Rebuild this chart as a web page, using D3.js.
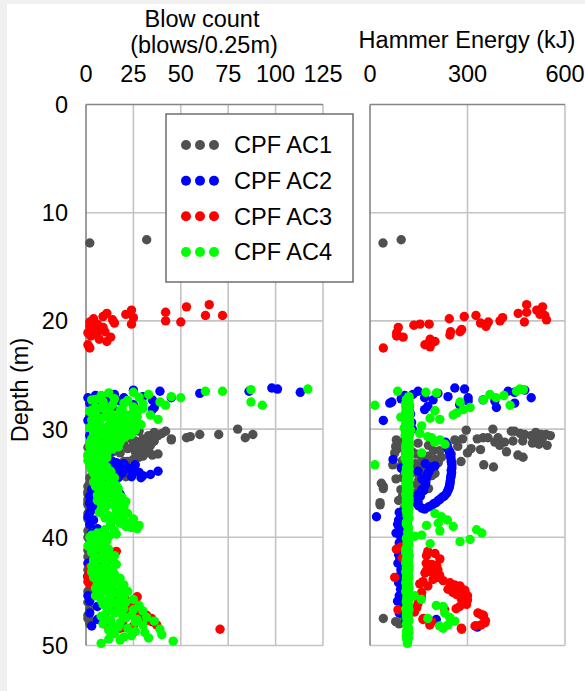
<!DOCTYPE html>
<html>
<head>
<meta charset="utf-8">
<script src="https://cdn.jsdelivr.net/npm/d3@7"></script>
<style>
  html, body { margin: 0; padding: 0; background: #f0f0f0; }
  svg { display: block; }
  text { font-family: "Liberation Sans", Arial, sans-serif; fill: #000; }
</style>
</head>
<body>
<svg id="chart" width="585" height="691"></svg>
<script>
// Axis ticks
const depthTicks = [0, 10, 20, 30, 40, 50];
const blowTicks = [0, 25, 50, 75, 100, 125];
const energyTicks = [0, 300, 600];

// Series names and colours
const seriesNames = ["CPF AC1", "CPF AC2", "CPF AC3", "CPF AC4"];
const seriesColors = ["#505050", "#0000ff", "#ff0000", "#00ff00"];

// Driving records: [depth (m), blow count (blows/0.25m), hammer energy (kJ)]
const ac1 = [
  [12.5,32,96],[12.8,2,40],
  [30.0,80,378],[30.1,27,296],[30.2,42,435],[30.2,28,445],[30.3,36,510],[30.4,40,462],[30.5,88,476],
  [30.5,70,527],[30.5,60,542],[30.6,38,496],[30.6,33,555],[30.7,55,507],[30.8,84,348],[30.8,53,363],
  [30.8,20,394],[30.9,45,530],[30.9,30,330],[30.9,24,285],[31.0,45,261],[31.0,15,81],[31.1,26,470],
  [31.1,36,440],[31.2,35,414],[31.2,31,384],[31.2,5,92],[31.3,12,148],[31.3,29,500],[31.4,20,520],
  [31.4,8,100],[31.5,10,180],[31.5,25,399],[31.5,34,545],[31.6,3,79],[31.6,30,270],[31.7,1,96],
  [31.8,22,311],[31.8,6,85],[31.9,9,118],[31.9,28,340],[32.0,8,195],[32.0,33,214],[32.1,14,130],
  [32.1,26,420],[32.2,18,76],[32.2,32,300],[32.3,38,250],[32.3,9,140],[32.4,35,455],[32.5,30,178],
  [32.6,11,220],[32.6,28,471],[32.7,12,160],[32.8,25,199],[32.9,6,100],[32.9,13,175],[33.0,20,117],
  [33.0,22,280],[33.1,10,210],[33.2,7,140],[33.3,16,160],[33.3,19,350],[33.3,3,70],[33.4,8,96],
  [33.5,18,380],[33.5,10,130],[33.6,22,148],[33.7,4,190],[33.8,5,163],[33.9,9,117],[33.9,7,105],
  [34.0,6,130],[34.1,5,200],[34.2,14,150],[34.3,4,120],[34.3,12,190],[34.4,21,175],[34.5,2,100],
  [34.6,3,80],[34.7,4,150],[34.8,7,163],[35.0,2,35],[35.1,6,125],[35.2,5,148],[35.3,1,41],
  [35.5,3,41],[35.5,3,180],[35.6,2,95],[35.8,1,120],[35.9,2,140],[36.0,1,110],[36.2,4,100],
  [36.3,2,130],[36.5,1,115],[36.6,2,88],[36.8,1,31],[37.0,1,31],[37.3,2,105],[37.8,1,112],
  [38.3,1,110],[38.8,2,115],[39.4,1,108],[40.0,1,112],[40.6,2,110],[41.2,1,115],[41.8,1,112],
  [42.4,2,110],[43.0,1,114],[43.6,1,110],[44.2,2,112],[45.0,1,115],[45.4,2,110],[46.0,1,112],
  [46.6,2,108],[47.2,1,100],[47.5,1,41],[47.8,3,79],[48.0,2,90]
];

const ac2 = [
  [26.2,98,261],[26.3,101,291],[26.4,25,476],[26.5,86,425],[26.5,39,148],[26.6,113,445],[26.7,60,209],
  [26.8,15,132],[26.9,5,107],[27.0,30,240],[27.1,45,302],[27.1,20,496],[27.1,1,168],[27.2,10,96],
  [27.3,35,348],[27.3,6,194],[27.4,8,384],[27.4,18,302],[27.5,3,67],[27.6,12,445],[27.6,2,61],
  [27.75,25,276],[27.9,6,178],[28.0,14,389],[28.0,36,120],[28.2,35,168],[28.3,4,120],[28.6,9,125],
  [28.9,2,117],[29.2,1,41],[29.4,6,128],[29.7,3,122],[30.0,10,130],[30.3,5,120],[30.6,2,118],
  [30.9,8,110],[31.2,4,232],[31.4,5,236],[31.5,6,120],[31.6,7,238],[31.8,3,240],[32.0,9,243],
  [32.1,7,245],[32.2,12,110],[32.3,6,246],[32.5,10,248],[32.7,11,249],[32.8,8,71],[33.0,14,250],
  [33.1,16,251],[33.2,20,170],[33.3,26,252],[33.4,15,200],[33.5,12,190],[33.6,22,96],[33.6,20,252],
  [33.7,21,185],[33.8,18,250],[33.9,38,148],[34.0,25,180],[34.0,28,251],[34.1,19,178],[34.2,34,250],
  [34.3,30,175],[34.4,24,249],[34.5,29,248],[34.5,17,174],[34.6,15,160],[34.8,10,172],[34.8,12,247],
  [35.0,8,246],[35.0,14,171],[35.2,5,170],[35.2,9,245],[35.4,12,244],[35.6,3,160],[35.6,7,241],
  [35.7,12,165],[35.8,6,238],[36.0,18,150],[36.0,5,234],[36.2,2,228],[36.2,10,155],[36.3,4,222],
  [36.4,9,145],[36.5,4,215],[36.6,3,210],[36.7,8,148],[36.8,2,203],[36.9,7,145],[36.9,2,196],
  [37.1,3,188],[37.1,6,150],[37.2,4,180],[37.3,3,160],[37.4,5,168],[37.7,2,90],[38.1,1,20],
  [38.4,4,88],[38.8,2,85],[39.2,6,92],[39.6,3,80],[40.0,5,95],[40.5,6,90],[41.0,4,96],[41.6,7,88],
  [42.0,5,92],[42.4,1,86],[43.0,6,95],[43.6,1,90],[44.2,5,88],[44.8,7,94],[45.4,1,90],[45.9,2,85],
  [46.4,6,96],[47.0,2,90],[47.6,6,204],[47.8,35,110],[48.2,3,327],[48.3,20,330]
];

const ac3 = [
  [18.5,65,482],[18.7,53,531],[19.0,24,513],[19.2,42,482],[19.3,11,456],[19.4,21,523],[19.5,63,326],
  [19.5,72,538],[19.6,9,290],[19.7,25,408],[19.8,4,244],[19.9,14,543],[20.0,42,400],[20.1,50,475],
  [20.1,2,364],[20.2,15,340],[20.3,24,182],[20.3,6,154],[20.4,3,135],[20.5,2,357],[20.6,9,87],
  [20.8,5,282],[21.0,10,248],[21.0,6,277],[21.1,1,82],[21.3,3,246],[21.4,2.5,82],[21.5,13,102],
  [21.7,7,185],[21.9,11,200],[22.2,1,169],[22.4,1.6,185],[22.5,2,41],
  [40.9,3,95],[41.1,5,81],[41.3,16,178],[41.5,10,200],[41.7,12,174],[41.9,14,100],[42.0,8,215],
  [42.2,4,110],[42.4,11,173],[42.5,9,190],[42.6,6,205],[42.8,2,199],[43.0,7,209],[43.1,3,173],
  [43.2,6,188],[43.3,5,169],[43.5,2,214],[43.7,1,76],[43.7,4,210],[43.9,3,194],[44.0,7,225],
  [44.1,1,163],[44.2,6,246],[44.3,2,153],[44.4,9,260],[44.5,8,277],[44.5,4,178],[44.7,10,271],
  [44.8,5,240],[44.9,13,292],[45.0,12,286],[45.1,15,255],[45.1,8,159],[45.3,20,267],[45.4,16,300],
  [45.5,27,158],[45.7,18,281],[45.8,21,300],[46.0,23,291],[46.1,14,148],[46.2,20,297],[46.4,25,276],
  [46.5,16,144],[46.6,22,265],[46.7,28.5,230],[46.7,12,86],[46.9,22,137],[47.0,30,332],[47.1,29,340],
  [47.2,32,349],[47.3,26,348],[47.5,34.6,164],[47.6,20,163],[47.7,33,355],[47.8,36,190],[47.9,30,354],
  [48.1,37.3,342],[48.1,11,184],[48.2,25,323],[48.4,18,281],[48.5,70.7,282]
];

const ac4 = [
  [26.3,117,461],[26.35,87,472],[26.5,72,451],[26.5,63,85],[26.6,25,172],[26.65,12,205],[26.8,33,369],
  [26.9,8,412],[27.0,45,120],[27.05,28,118],[27.1,50,388],[27.2,15,120],[27.25,5,112],[27.3,3,349],
  [27.35,22,120],[27.45,9,116],[27.5,87,277],[27.5,39,115],[27.6,20,110],[27.65,30,114],[27.75,14,122],
  [27.8,93,431],[27.8,42,15],[27.9,10,118],[27.95,25,110],[28.0,5,308],[28.05,8,118],[28.1,30,112],
  [28.15,19,120],[28.2,28,287],[28.25,3,114],[28.3,18,200],[28.35,26,116],[28.4,2,110],[28.45,11,112],
  [28.5,13,267],[28.55,20,122],[28.6,24,120],[28.65,5,118],[28.7,34,256],[28.75,15,110],[28.8,22,120],
  [28.85,27,116],[28.9,6,95],[28.95,12,120],[29.0,8,185],[29.05,18,112],[29.1,38,215],[29.15,3,118],
  [29.2,25,115],[29.25,21,120],[29.3,16,122],[29.35,7,114],[29.4,15,120],[29.45,26,116],[29.5,4,110],
  [29.55,14,122],[29.6,29,112],[29.65,6,110],[29.7,12,159],[29.75,19,118],[29.8,22,118],[29.85,2,116],
  [29.9,9,105],[29.95,15,112],[30.0,20,118],[30.05,10,120],[30.1,26,125],[30.15,22,114],[30.2,5,112],
  [30.25,14,118],[30.3,18,120],[30.35,4,110],[30.4,12,153],[30.45,19,122],[30.5,24,116],[30.55,9,116],
  [30.6,7,108],[30.65,21,112],[30.7,16,178],[30.75,6,120],[30.8,20,190],[30.85,13,118],[30.9,3,112],
  [30.95,18,114],[31.0,14,215],[31.05,5,116],[31.1,11,120],[31.15,16,112],[31.2,18,199],[31.25,2,120],
  [31.3,6,115],[31.35,13,118],[31.4,9,231],[31.45,4,114],[31.5,15,110],[31.55,9,122],[31.6,2,120],
  [31.65,17,116],[31.7,12,118],[31.75,3,110],[31.8,7,112],[31.85,14,120],[31.9,10,115],[31.95,6,118],
  [32.0,4,120],[32.05,11,114],[32.1,8,110],[32.15,3,116],[32.2,2,159],[32.25,9,122],[32.3,11,118],
  [32.35,1,118],[32.4,6,116],[32.45,7,110],[32.5,1,112],[32.55,4,120],[32.6,9,120],[32.65,11,114],
  [32.7,3,108],[32.75,2,116],[32.8,7,118],[32.85,5,112],[32.9,1,115],[32.95,9,120],[33.0,5,112],
  [33.1,3,118],[33.2,9,120],[33.3,2,15],[33.4,4,116],[33.5,11,114],[33.6,8,112],[33.7,6,120],
  [33.8,3,118],[33.9,13,116],[34.0,10,110],[34.1,4,112],[34.2,6,120],[34.3,9,118],[34.4,12,115],
  [34.5,15,120],[34.6,5,112],[34.7,8,114],[34.8,14,118],[34.9,4,116],[35.0,8,110],[35.1,12,118],
  [35.2,16,115],[35.3,5,112],[35.4,7,120],[35.5,17,116],[35.6,13,112],[35.7,9,120],[35.8,10,118],
  [35.9,14,114],[36.0,17,110],[36.1,6,118],[36.2,9,115],[36.3,19,112],[36.4,15,120],[36.5,11,116],
  [36.6,6,112],[36.7,21,120],[36.8,18,116],[36.9,8,114],[37.0,11,110],[37.1,15,116],[37.2,20,118],
  [37.3,10,120],[37.4,8,114],[37.5,19,112],[37.6,16,112],[37.7,7,118],[37.8,22,200],[37.9,17,114],
  [38.0,12,116],[38.1,19,220],[38.2,10,120],[38.3,25,118],[38.4,14,238],[38.5,20,116],[38.6,24,112],
  [38.7,18,210],[38.8,13,112],[38.9,28,174],[39.0,21,256],[39.1,24,118],[39.2,27,118],[39.3,10,328],
  [39.4,15,215],[39.5,9,116],[39.6,6,344],[39.7,16,120],[39.8,3,159],[39.9,12,138],[40.0,2,114],
  [40.1,6,112],[40.2,8,308],[40.3,11,118],[40.4,4,277],[40.5,3,114],[40.6,10,185],[40.7,8,120],
  [40.8,1,116],[40.9,5,116],[41.0,6,112],[41.1,12,110],[41.2,9,118],[41.3,3,118],[41.4,3,110],
  [41.5,9,114],[41.6,12,115],[41.7,15,120],[41.8,5,120],[41.9,7,116],[42.0,8,112],[42.1,4,112],
  [42.2,14,118],[42.3,11,118],[42.4,4,110],[42.5,16,114],[42.6,10,116],[42.7,3,120],[42.8,6,112],
  [42.9,9,116],[43.0,12,120],[43.1,14,112],[43.2,3,110],[43.3,6,118],[43.4,15,118],[43.5,11,114],
  [43.6,8,114],[43.7,4,120],[43.8,18,112],[43.9,13,116],[44.0,10,116],[44.1,17,112],[44.2,6,110],
  [44.3,8,118],[44.4,20,118],[44.5,14,114],[44.6,12,112],[44.7,5,120],[44.8,8,116],[44.9,18,116],
  [45.0,22,110],[45.1,11,112],[45.2,14,118],[45.3,7,118],[45.4,5,137],[45.5,20,114],[45.6,18,114],
  [45.7,13,120],[45.75,25,158],[45.8,8,116],[45.9,10,112],[46.0,21,112],[46.1,16,116],[46.2,9,118],
  [46.3,28,204],[46.4,12,225],[46.5,17,114],[46.6,20,110],[46.7,25,120],[46.8,30,118],[46.9,11,116],
  [47.0,15,230],[47.1,19,112],[47.2,24,112],[47.3,8,118],[47.4,32,245],[47.45,21,114],[47.5,10,178],
  [47.6,27,114],[47.7,13,120],[47.75,36,261],[47.85,26,116],[47.9,18,116],[48.0,9,112],[48.1,30,240],
  [48.2,14,214],[48.3,17,118],[48.4,22,225],[48.5,39,118],[48.6,12,114],[48.7,26,112],[48.8,31,120],
  [48.9,15,116],[49.0,40,116],[49.1,24,112],[49.2,20,112],[49.3,33,118],[49.4,12,114],[49.5,18,114],
  [49.6,46,116],[49.8,8,115]
];

const allSeries = [ac1, ac2, ac3, ac4];

const svg = d3.select("#chart");
const W = 585, H = 691;

// page and chart area backgrounds
svg.append("rect").attr("width", W).attr("height", H).attr("fill", "#f0f0f0");
svg.append("rect").attr("x", 7).attr("y", 4).attr("width", W - 7).attr("height", H - 4).attr("fill", "#ffffff");

const y = d3.scaleLinear().domain([0, 50]).range([104.5, 645.5]);
const xBlow = d3.scaleLinear().domain([0, 125]).range([86, 323]);
const xEnergy = d3.scaleLinear().domain([0, 600]).range([370, 565]);

const gridColor = "#c4c4c4";
const axisColor = "#858585";
const fontSize = 23.5;
const pointRadius = 4.7;

function panel(x, ticks, accessor) {
  const g = svg.append("g");
  const [x0, x1] = x.range();
  const [y0, y1] = y.range();
  // horizontal gridlines
  g.selectAll("line.h").data(depthTicks.slice(1)).join("line")
    .attr("x1", x0).attr("x2", x1)
    .attr("y1", d => y(d)).attr("y2", d => y(d))
    .attr("stroke", gridColor).attr("stroke-width", 1.6);
  // vertical gridlines
  g.selectAll("line.v").data(ticks.slice(1)).join("line")
    .attr("x1", d => x(d)).attr("x2", d => x(d))
    .attr("y1", y0).attr("y2", y1)
    .attr("stroke", gridColor).attr("stroke-width", 1.6);
  // top axis line and left axis line
  g.append("line").attr("x1", x0).attr("x2", x1).attr("y1", y0).attr("y2", y0)
    .attr("stroke", axisColor).attr("stroke-width", 1.6);
  g.append("line").attr("x1", x0).attr("x2", x0).attr("y1", y0).attr("y2", y1)
    .attr("stroke", axisColor).attr("stroke-width", 1.6);
  // tick labels on top
  g.selectAll("text.tick").data(ticks).join("text")
    .attr("x", d => x(d)).attr("y", 82)
    .attr("text-anchor", "middle")
    .attr("font-size", fontSize)
    .text(d => d);
  // points
  allSeries.forEach((rows, i) => {
    g.append("g").selectAll("circle").data(rows).join("circle")
      .attr("cx", d => x(accessor(d)))
      .attr("cy", d => y(d[0]))
      .attr("r", pointRadius)
      .attr("fill", seriesColors[i]);
  });
  return g;
}

panel(xBlow, blowTicks, d => d[1]);
panel(xEnergy, energyTicks, d => d[2]);

// depth tick labels
svg.append("g").selectAll("text").data(depthTicks).join("text")
  .attr("x", 68).attr("y", d => y(d))
  .attr("dy", "0.36em")
  .attr("text-anchor", "end")
  .attr("font-size", fontSize)
  .text(d => d);

// axis titles
svg.append("text").attr("x", 202).attr("y", 27).attr("text-anchor", "middle")
  .attr("font-size", fontSize).text("Blow count");
svg.append("text").attr("x", 204).attr("y", 53).attr("text-anchor", "middle")
  .attr("font-size", fontSize).text("(blows/0.25m)");
svg.append("text").attr("x", 467).attr("y", 48).attr("text-anchor", "middle")
  .attr("font-size", fontSize).text("Hammer Energy (kJ)");
svg.append("text")
  .attr("transform", "translate(28," + 390 + ") rotate(-90)")
  .attr("text-anchor", "middle")
  .attr("font-size", fontSize).text("Depth (m)");

// legend
const legend = svg.append("g");
legend.append("rect").attr("x", 166).attr("y", 114).attr("width", 187).attr("height", 168)
  .attr("fill", "#ffffff").attr("stroke", "#6e6e6e").attr("stroke-width", 1.5);
const rowY = d3.scalePoint().domain(seriesNames).range([145, 252]);
seriesNames.forEach((name, i) => {
  const ry = rowY(name);
  [186, 200, 214].forEach(cx => {
    legend.append("circle").attr("cx", cx).attr("cy", ry).attr("r", 5).attr("fill", seriesColors[i]);
  });
  legend.append("text").attr("x", 234).attr("y", ry).attr("dy", "0.36em")
    .attr("font-size", fontSize).text(name);
});
</script>
</body>
</html>
